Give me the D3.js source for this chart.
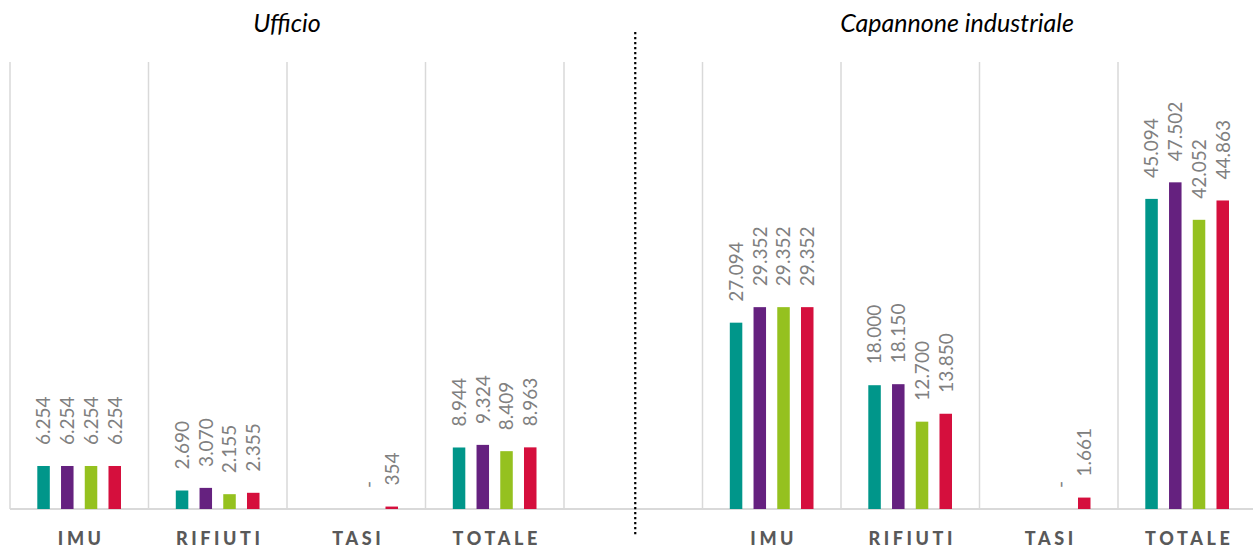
<!DOCTYPE html>
<html>
<head>
<meta charset="utf-8">
<script src="https://cdn.jsdelivr.net/npm/d3@7/dist/d3.min.js"></script>
<style>
  html, body { margin: 0; padding: 0; background: #fff; }
  svg { display: block; }
</style>
</head>
<body>
<svg id="chart" width="1253" height="549"></svg>
<script>
// ---- data ----
const slots = ["u-IMU", "u-RIFIUTI", "u-TASI", "u-TOTALE", "gap", "c-IMU", "c-RIFIUTI", "c-TASI", "c-TOTALE"];
const slotLabels = ["IMU", "RIFIUTI", "TASI", "TOTALE", "", "IMU", "RIFIUTI", "TASI", "TOTALE"];
const panelTitles = ["Ufficio", "Capannone industriale"];
const seriesNames = ["S1", "S2", "S3", "S4"];
const seriesColors = ["#00968a", "#65217f", "#95c11f", "#d50f3d"];
const s1 = [6254, 2690, 0, 8944, null, 27094, 18000, 0, 45094];
const s2 = [6254, 3070, 0, 9324, null, 29352, 18150, 0, 47502];
const s3 = [6254, 2155, 0, 8409, null, 29352, 12700, 0, 42052];
const s4 = [6254, 2355, 354, 8963, null, 29352, 13850, 1661, 44863];
const seriesValues = [s1, s2, s3, s4];
// labels shown for zero values ("-" only where the original shows it)
const zeroLabel = ["", "", "-", ""];
const yMax = 65000;

// ---- layout ----
const svg = d3.select("#chart");
const W = 1253, H = 549;
const baseY = 509, topY = 62;
const slotW = 138.5, x0 = 10;

const x = d3.scaleBand().domain(slots).range([x0, x0 + slotW * slots.length]).padding(0);
const xi = d3.scaleBand().domain(seriesNames).range([27.3, 111]).paddingInner(0.473).paddingOuter(0);
const y = d3.scaleLinear().domain([0, yMax]).range([baseY, topY]);

const fmt = v => d3.format(",")(v).replace(/,/g, ".");

// vertical gridlines at slot boundaries
const bounds = slots.map(s => x(s));
svg.append("g").selectAll("line").data(bounds).join("line")
  .attr("x1", d => d).attr("x2", d => d)
  .attr("y1", topY).attr("y2", baseY)
  .attr("stroke", "#d9d9d9").attr("stroke-width", 1.5);

// baseline
svg.append("line")
  .attr("x1", x0).attr("x2", W).attr("y1", baseY).attr("y2", baseY)
  .attr("stroke", "#d9d9d9").attr("stroke-width", 2);

// bars
const flat = [];
slots.forEach((s, i) => {
  if (s === "gap") return;
  seriesNames.forEach((n, k) => flat.push({ slot: s, series: n, k, v: seriesValues[k][i] }));
});

svg.append("g").selectAll("rect").data(flat.filter(d => d.v > 0)).join("rect")
  .attr("x", d => x(d.slot) + xi(d.series))
  .attr("width", xi.bandwidth())
  .attr("y", d => y(d.v))
  .attr("height", d => baseY - y(d.v))
  .attr("fill", d => seriesColors[d.k]);

// value labels (rotated)
svg.append("g").selectAll("text").data(flat).join("text")
  .attr("transform", d => {
    const cx = x(d.slot) + xi(d.series) + xi.bandwidth() / 2;
    const ty = y(d.v) - 21;
    return `translate(${cx},${ty}) rotate(-90)`;
  })
  .attr("dy", "0.36em")
  .attr("text-anchor", "start")
  .attr("font-family", "Lato, 'Open Sans', sans-serif")
  .attr("font-weight", 400)
  .attr("font-size", 19)
  .attr("fill", "#808080")
  .text(d => d.v > 0 ? fmt(d.v) : zeroLabel[d.k]);

// category labels
svg.append("g").selectAll("text").data(slots).join("text")
  .attr("x", d => x(d) + slotW / 2 + 2)
  .attr("y", 545)
  .attr("text-anchor", "middle")
  .attr("font-family", "Lato, 'Open Sans', sans-serif")
  .attr("font-weight", 900)
  .attr("font-size", 18)
  .attr("letter-spacing", 3.6)
  .attr("fill", "#595959")
  .text((d, i) => slotLabels[i]);

// panel titles
const titleX = [ (x(slots[0]) + x(slots[4])) / 2, 957 ];
svg.append("g").selectAll("text").data(panelTitles).join("text")
  .attr("x", (d, i) => titleX[i])
  .attr("y", 32)
  .attr("text-anchor", "middle")
  .attr("font-family", "Lato, 'Open Sans', sans-serif")
  .attr("font-style", "italic")
  .attr("font-size", 25)
  .attr("fill", "#000")
  .text(d => d);

// dotted separator in the empty slot
const sepX = x("gap") + slotW / 2 + 2;
svg.append("line")
  .attr("x1", sepX).attr("x2", sepX)
  .attr("y1", 32).attr("y2", 536)
  .attr("stroke", "#000").attr("stroke-width", 2.2)
  .attr("stroke-dasharray", "2.2,2.8");
</script>
</body>
</html>
